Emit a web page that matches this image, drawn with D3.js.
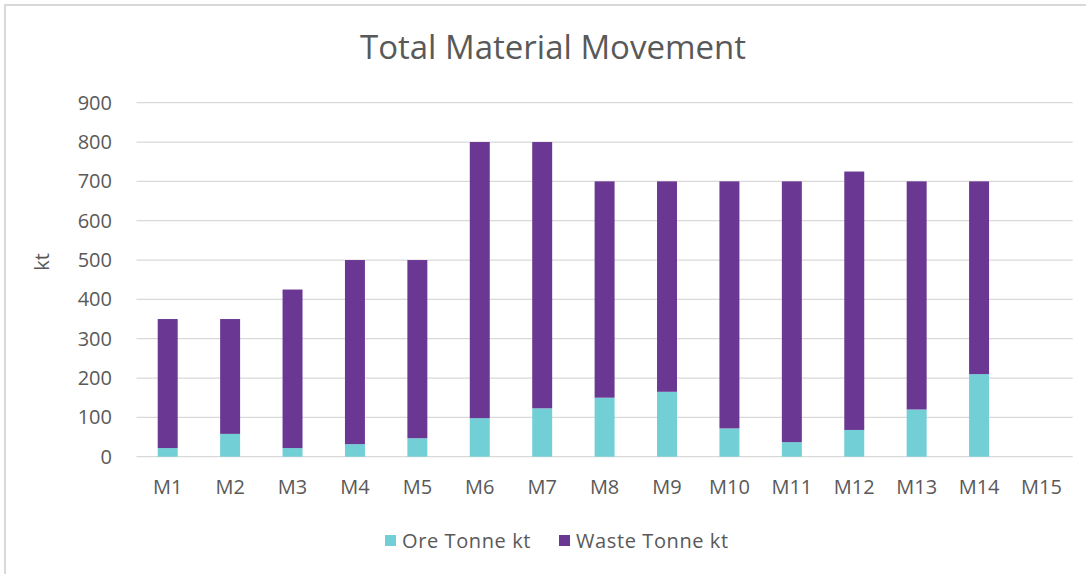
<!DOCTYPE html>
<html><head><meta charset="utf-8">
<script src="https://cdn.jsdelivr.net/npm/d3@7"></script>
<style>
html,body{margin:0;padding:0;background:#fff;}
svg{display:block;font-family:"Open Sans",sans-serif;}
</style></head>
<body>
<svg id="chart" width="1086" height="574"></svg>
<script>
const categories = ["M1","M2","M3","M4","M5","M6","M7","M8","M9","M10","M11","M12","M13","M14","M15"];
const oreTonne = [22,58,22,32,47,98,123,150,165,72,37,68,120,210,0];
const wasteTonne = [328,292,403,468,453,702,677,550,535,628,663,657,580,490,0];
const yTicks = [0,100,200,300,400,500,600,700,800,900];
const seriesNames = ["Ore Tonne kt","Waste Tonne kt"];
const seriesColors = ["#71cfd5","#6a3893"];

const svg = d3.select("#chart");
const W = 1086, H = 574;
const plot = {left:136.5, right:1072.7, top:102.7, bottom:456.7};

// outer border (only top/left visible)
svg.append("rect").attr("x",5).attr("y",5).attr("width",W+20).attr("height",H+20)
  .attr("fill","#fff").attr("stroke","#d9d9d9").attr("stroke-width",2);

const x = d3.scaleBand().domain(categories).range([plot.left, plot.right]).paddingInner(0.68).paddingOuter(0.34);
const y = d3.scaleLinear().domain([0,900]).range([plot.bottom, plot.top]);

// gridlines
svg.append("g").selectAll("line").data(yTicks).join("line")
  .attr("x1",plot.left).attr("x2",plot.right)
  .attr("y1",d=>y(d)).attr("y2",d=>y(d))
  .attr("stroke","#d9d9d9").attr("stroke-width",1.3);

// y tick labels
const yAxis = d3.axisLeft(y).tickValues(yTicks).tickSize(0).tickPadding(0);
const yg = svg.append("g").attr("transform",`translate(112,0)`).call(yAxis);
yg.select(".domain").remove();
yg.selectAll("text").attr("font-size",20).attr("fill","#595959").attr("font-family","Open Sans");

// x tick labels
const xAxis = d3.axisBottom(x).tickSize(0).tickPadding(0);
const xg = svg.append("g").attr("transform",`translate(0,${plot.bottom+23})`).call(xAxis);
xg.select(".domain").remove();
xg.selectAll("text").attr("font-size",20).attr("fill","#595959").attr("font-family","Open Sans");

// stacked bars
const rows = categories.map((c,i)=>({cat:c, ore:oreTonne[i], waste:wasteTonne[i]}));
const stack = d3.stack().keys(["ore","waste"])(rows);
svg.append("g").selectAll("g").data(stack).join("g")
  .attr("fill",(d,i)=>seriesColors[i])
  .selectAll("rect").data(d=>d.filter(p=>p[1]-p[0]>0)).join("rect")
  .attr("x",d=>x(d.data.cat)).attr("width",x.bandwidth())
  .attr("y",d=>y(d[1])).attr("height",d=>y(d[0])-y(d[1]));

// title
svg.append("text").attr("x",553).attr("y",59).attr("text-anchor","middle")
  .attr("font-size",33).attr("fill","#595959").text("Total Material Movement");

// y axis label
svg.append("text").attr("transform","translate(49,262) rotate(-90)").attr("text-anchor","middle")
  .attr("font-size",20).attr("fill","#595959").text("kt");

// legend
const legendX = [385, 559];
const lg = svg.append("g");
seriesNames.forEach((n,i)=>{
  lg.append("rect").attr("x",legendX[i]).attr("y",535).attr("width",11).attr("height",11).attr("fill",seriesColors[i]);
  lg.append("text").attr("x",legendX[i]+17).attr("y",548).attr("font-size",20)
    .attr("letter-spacing",0.6).attr("fill","#595959").text(n);
});
</script>
</body></html>
